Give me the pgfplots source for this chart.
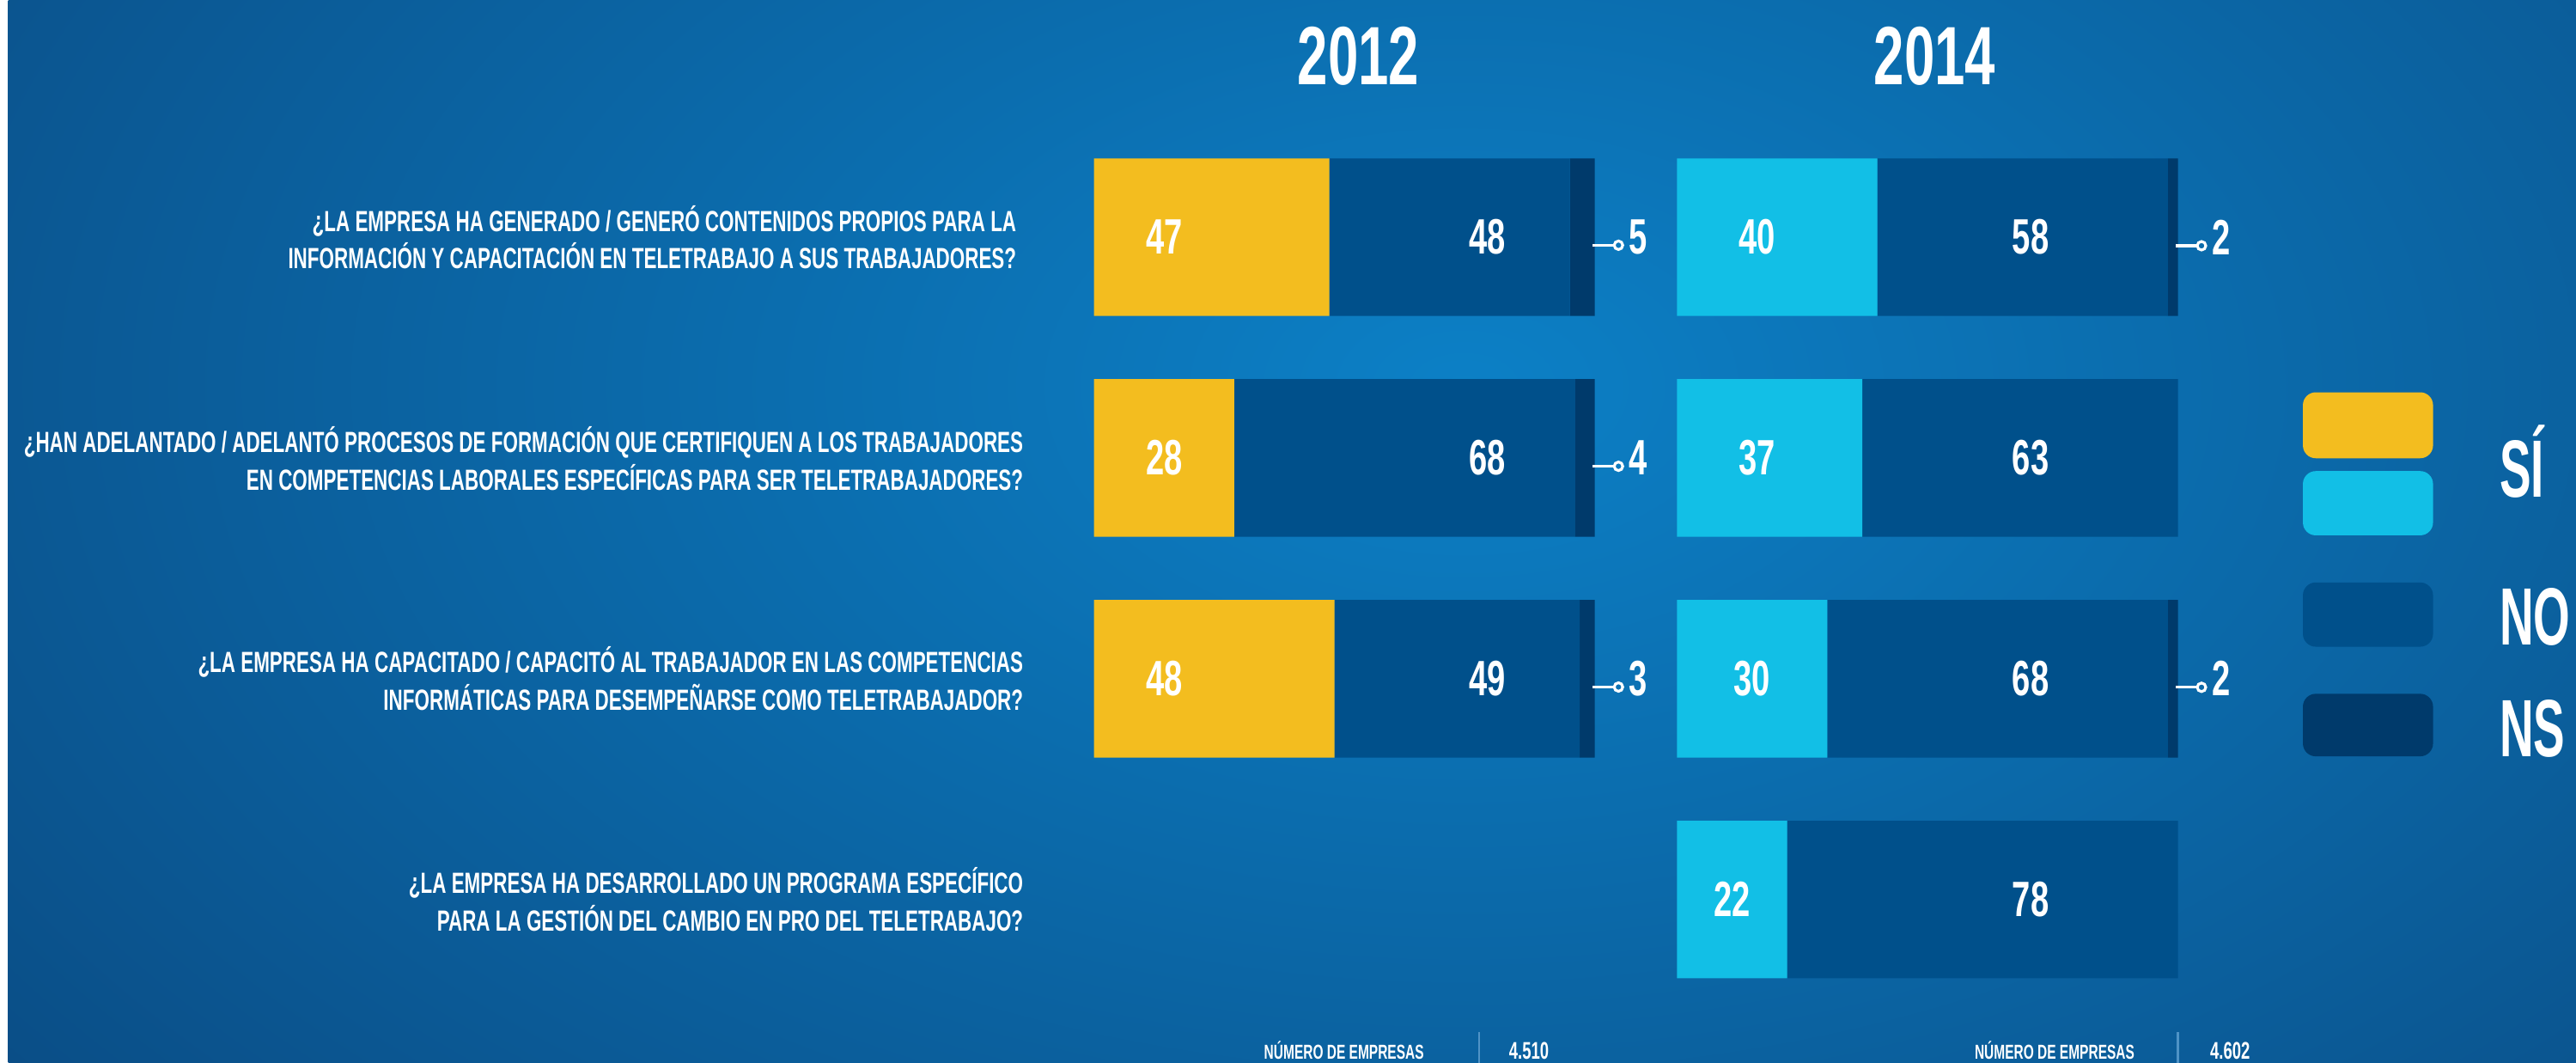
\documentclass[border=0pt]{standalone}
\usepackage{fontspec}
\usepackage{pgfplots}
\usepackage{pgfplotstable}
\pgfplotsset{compat=1.18}
\setmainfont{Liberation Sans}
\newfontfamily\cf{Liberation Sans}[FakeStretch=0.66]
\newfontfamily\lf{Liberation Sans}[FakeStretch=0.58]
\definecolor{siA}{HTML}{F3BD1F}
\definecolor{siB}{HTML}{12BFE6}
\definecolor{noC}{HTML}{00508B}
\definecolor{nsC}{HTML}{003A6B}
\definecolor{bgL}{HTML}{0C80C6}
\definecolor{bgD}{HTML}{0A4379}
\definecolor{sepC}{HTML}{4F93C6}

\pgfplotstableread{
row si no ns
1 47 48 5
2 28 68 4
3 48 49 3
}\dA
\pgfplotstableread{
row si no ns
1 40 58 2
2 37 63 0
3 30 68 2
4 22 78 0
}\dB

\pgfplotsset{
  barax/.style={scale only axis, width=5.85cm, height=10.31cm,
    xmin=0, xmax=100, ymin=0.5, ymax=4.5, y dir=reverse,
    hide axis, clip=false, anchor=south west},
  numlab/.style={draw=none,
    nodes near coords={\pgfmathprintnumber[assume math mode=true]{\pgfplotspointmeta}},
    nodes near coords align={center},
    every node near coord/.append style={font=\cf\bfseries\fontsize{16.5}{16.5}\selectfont, text=white, inner sep=0pt}},
  calllab/.style={numlab, nodes near coords align={west},
    nodes near coords={\usebox\callbox\hspace{0.06cm}\pgfmathprintnumber[assume math mode=true]{\pgfplotspointmeta}}},
}
\newsavebox\callbox
\begin{document}
\sbox\callbox{\tikz[baseline=-0.55ex]{\draw[white,line width=0.9pt] (0,0)--(0.25,0); \draw[white,line width=0.9pt] (0.30,0) circle (0.05);}}
\begin{tikzpicture}
\useasboundingbox (0,0) rectangle (29.99,12.41);
\begin{scope}
\clip (0,0) rectangle (29.99,12.41);
\fill[bgD] (0,0) rectangle (29.99,12.41);
\shade[inner color=bgL, outer color=bgD] (-9,-8.1) rectangle (43,23.9);
\end{scope}

% ---- 2012 bars
\begin{axis}[barax, at={(12.68cm,0.62cm)}, xbar stacked, bar width=1.84cm]
\addplot[fill=siA, draw=none] table[x=si, y=row] {\dA};
\addplot[fill=noC, draw=none] table[x=no, y=row] {\dA};
\addplot[fill=nsC, draw=none] table[x=ns, y=row] {\dA};
\end{axis}
\begin{axis}[barax, at={(12.68cm,0.62cm)}]
\addplot[numlab, point meta=\thisrow{si}] table[x expr={min(14,\thisrow{si}/2)}, y=row] {\dA};
\addplot[numlab, point meta=\thisrow{no}] table[x expr=78.5, y=row] {\dA};
\addplot[calllab, point meta=\thisrow{ns},
  restrict expr to domain={\thisrow{ns}}{0.5:1000}] table[x expr=99.2, y=row] {\dA};
\end{axis}

% ---- 2014 bars
\begin{axis}[barax, at={(19.49cm,0.62cm)}, xbar stacked, bar width=1.84cm]
\addplot[fill=siB, draw=none] table[x=si, y=row] {\dB};
\addplot[fill=noC, draw=none] table[x=no, y=row] {\dB};
\addplot[fill=nsC, draw=none] table[x=ns, y=row] {\dB};
\end{axis}
\begin{axis}[barax, at={(19.49cm,0.62cm)}]
\addplot[numlab, point meta=\thisrow{si}] table[x expr={min(16,\thisrow{si}/2)}, y=row] {\dB};
\addplot[numlab, point meta=\thisrow{no}] table[x expr=70.6, y=row] {\dB};
\addplot[calllab, point meta=\thisrow{ns},
  restrict expr to domain={\thisrow{ns}}{0.5:1000}] table[x expr=99.2, y=row] {\dB};
\end{axis}

% ---- titles
\node[anchor=base, text=white, font=\cf\bfseries\fontsize{27.5}{27.5}\selectfont, inner sep=0] at (15.77,11.42) {2012};
\node[anchor=base, text=white, font=\cf\bfseries\fontsize{27.5}{27.5}\selectfont, inner sep=0] at (22.50,11.42) {2014};

% ---- questions
\tikzset{q/.style={anchor=east, align=right, text=white, inner sep=0,
  font=\cf\bfseries\fontsize{9.7}{12.5}\selectfont}}
\node[q] at (11.78,9.64) {¿LA EMPRESA HA GENERADO / GENERÓ CONTENIDOS PROPIOS PARA LA\\INFORMACIÓN Y CAPACITACIÓN EN TELETRABAJO A SUS TRABAJADORES?};
\node[q] at (11.86,7.06) {¿HAN ADELANTADO / ADELANTÓ PROCESOS DE FORMACIÓN QUE CERTIFIQUEN A LOS TRABAJADORES\\EN COMPETENCIAS LABORALES ESPECÍFICAS PARA SER TELETRABAJADORES?};
\node[q] at (11.86,4.49) {¿LA EMPRESA HA CAPACITADO / CAPACITÓ AL TRABAJADOR EN LAS COMPETENCIAS\\INFORMÁTICAS PARA DESEMPEÑARSE COMO TELETRABAJADOR?};
\node[q] at (11.86,1.91) {¿LA EMPRESA HA DESARROLLADO UN PROGRAMA ESPECÍFICO\\PARA LA GESTIÓN DEL CAMBIO EN PRO DEL TELETRABAJO?};

% ---- legend
\fill[siA, rounded corners=0.15cm] (26.80,7.06) rectangle (28.32,7.83);
\fill[siB, rounded corners=0.15cm] (26.80,6.16) rectangle (28.32,6.91);
\fill[noC, rounded corners=0.15cm] (26.80,4.86) rectangle (28.32,5.61);
\fill[nsC, rounded corners=0.15cm] (26.80,3.58) rectangle (28.32,4.31);
\tikzset{lg/.style={anchor=base west, text=white, inner sep=0,
  font=\lf\bfseries\fontsize{27}{27}\selectfont}}
\node[lg] at (29.09,6.61) {SÍ};
\node[lg] at (29.09,4.88) {NO};
\node[lg] at (29.09,3.58) {NS};

% ---- bottom
\tikzset{bt/.style={anchor=base, text=white, inner sep=0, font=\cf\bfseries\fontsize{6.7}{6.7}\selectfont},
  bn/.style={anchor=base, text=white, inner sep=0, font=\cf\bfseries\fontsize{8}{8}\selectfont}}
\node[bt] at (15.60,0.04) {NÚMERO DE EMPRESAS};
\draw[sepC, line width=0.6pt] (17.18,0) -- (17.18,0.36);
\node[bn] at (17.76,0.04) {4.510};
\node[bt] at (23.90,0.04) {NÚMERO DE EMPRESAS};
\draw[sepC, line width=0.6pt] (25.34,0) -- (25.34,0.36);
\node[bn] at (25.95,0.04) {4.602};
\end{tikzpicture}
\end{document}
